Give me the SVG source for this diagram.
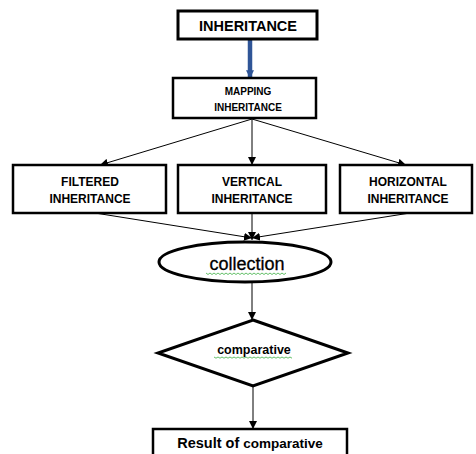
<svg xmlns="http://www.w3.org/2000/svg" width="476" height="454" viewBox="0 0 476 454">
<style>
.box{fill:#fff;stroke:#000;stroke-width:2.5}
.thick{fill:#fff;stroke:#000;stroke-width:3}
.t{font-family:"Liberation Sans",Arial,sans-serif;font-weight:bold;fill:#000;text-anchor:middle}
.c{stroke:#000;stroke-width:1;fill:none}
.wavy{stroke:#3cb043;stroke-width:0.8;fill:none}
</style>
<defs>
<marker id="ah" viewBox="0 0 8 8" refX="8" refY="4" markerWidth="8" markerHeight="8" markerUnits="userSpaceOnUse" orient="auto">
<path d="M0,0 L8,4 L0,8 z" fill="#000"/>
</marker>
<marker id="bh" viewBox="0 0 6 6" refX="5" refY="3" markerWidth="8" markerHeight="8" markerUnits="userSpaceOnUse" orient="auto">
<path d="M0,0 L6,3 L0,6 z" fill="#2F5597"/>
</marker>
</defs>
<rect width="476" height="454" fill="#fff"/>
<g id="connectors">
<line x1="250" y1="40" x2="250" y2="77" stroke="#2F5597" stroke-width="4.5" marker-end="url(#bh)"/>
<line class="c" x1="252" y1="119" x2="100" y2="165" marker-end="url(#ah)"/>
<line class="c" x1="252" y1="119" x2="252" y2="165" marker-end="url(#ah)"/>
<line class="c" x1="252" y1="119" x2="406" y2="165" marker-end="url(#ah)"/>
<line class="c" x1="95" y1="213" x2="252" y2="238" marker-end="url(#ah)"/>
<line class="c" x1="252" y1="213" x2="252" y2="240" marker-end="url(#ah)"/>
<line class="c" x1="410" y1="213" x2="252" y2="238" marker-end="url(#ah)"/>
<line class="c" x1="252" y1="283" x2="252" y2="320" marker-end="url(#ah)"/>
<line class="c" x1="253" y1="387" x2="253" y2="429" marker-end="url(#ah)"/>
</g>
<g id="inheritance">
<rect class="thick" x="178" y="11" width="139" height="28"/>
<text class="t" x="248" y="31" font-size="14.5">INHERITANCE</text>
</g>
<g id="mapping">
<rect class="box" x="173" y="78" width="143" height="40"/>
<text class="t" x="248" y="95" font-size="10">MAPPING</text>
<text class="t" x="248" y="111" font-size="10">INHERITANCE</text>
</g>
<g id="filtered">
<rect class="box" x="13" y="165" width="153" height="48"/>
<text class="t" x="90" y="186" font-size="12">FILTERED</text>
<text class="t" x="90" y="203" font-size="12">INHERITANCE</text>
</g>
<g id="vertical">
<rect class="box" x="178" y="165" width="148" height="48"/>
<text class="t" x="252" y="186" font-size="12">VERTICAL</text>
<text class="t" x="252" y="203" font-size="12">INHERITANCE</text>
</g>
<g id="horizontal">
<rect class="box" x="340" y="165" width="132" height="48"/>
<text class="t" x="408" y="186" font-size="12">HORIZONTAL</text>
<text class="t" x="408" y="203" font-size="12">INHERITANCE</text>
</g>
<g id="collection">
<ellipse class="thick" cx="245" cy="262" rx="86" ry="20"/>
<text x="247" y="270" font-size="18" font-family="'Liberation Sans',Arial,sans-serif" text-anchor="middle" fill="#000" stroke="#000" stroke-width="0.3">collection</text>
<path class="wavy" d="M206,273 l2,1.5 l2,-1.5 l2,1.5 l2,-1.5 l2,1.5 l2,-1.5 l2,1.5 l2,-1.5 l2,1.5 l2,-1.5 l2,1.5 l2,-1.5 l2,1.5 l2,-1.5 l2,1.5 l2,-1.5 l2,1.5 l2,-1.5 l2,1.5 l2,-1.5 l2,1.5 l2,-1.5 l2,1.5 l2,-1.5 l2,1.5 l2,-1.5 l2,1.5 l2,-1.5 l2,1.5 l2,-1.5 l2,1.5 l2,-1.5 l2,1.5 l2,-1.5 l2,1.5 l2,-1.5 l2,1.5 l2,-1.5 l2,1.5 l2,-1.5"/>
</g>
<g id="comparative">
<polygon class="thick" points="253,320 348,353 253,386 158,353"/>
<text class="t" x="254" y="354" font-size="12.5">comparative</text>
<path class="wavy" d="M214,357 l2,1.2 l2,-1.2 l2,1.2 l2,-1.2 l2,1.2 l2,-1.2 l2,1.2 l2,-1.2 l2,1.2 l2,-1.2 l2,1.2 l2,-1.2 l2,1.2 l2,-1.2 l2,1.2 l2,-1.2 l2,1.2 l2,-1.2 l2,1.2 l2,-1.2 l2,1.2 l2,-1.2 l2,1.2 l2,-1.2 l2,1.2 l2,-1.2 l2,1.2 l2,-1.2 l2,1.2 l2,-1.2 l2,1.2 l2,-1.2 l2,1.2 l2,-1.2 l2,1.2 l2,-1.2 l2,1.2 l2,-1.2 l2,1.2"/>
</g>
<g id="result">
<rect class="box" x="153" y="429" width="194" height="30"/>
<text class="t" x="250" y="448" font-size="14.5">Result of <tspan font-size="13.5">comparative</tspan></text>
</g>
</svg>
